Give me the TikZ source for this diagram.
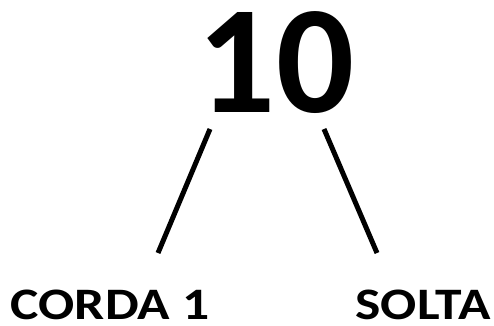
\documentclass[tikz,border=0pt]{standalone}
\usepackage{fontspec}
\setmainfont{Carlito}
\begin{document}
\begin{tikzpicture}[x=1pt,y=-1pt,
  lbl/.style={font=\bfseries\fontsize{45}{45}\selectfont, anchor=base, inner sep=0pt, xscale=1.19},
  big/.style={font=\bfseries\fontsize{154}{154}\selectfont, anchor=base, inner sep=0pt},
  link/.style={line width=5pt}]
\useasboundingbox (0,0) rectangle (494,325);
\node[big] (ten) at (276,112) {10};
\node[lbl] (corda) at (110,319) {CORDA 1};
\node[lbl] (solta) at (423,319) {SOLTA};
\coordinate (l1) at (210,129);
\coordinate (l2) at (158,253);
\coordinate (r1) at (324,129);
\coordinate (r2) at (377,253);
\draw[link] (l1) -- (l2);
\draw[link] (r1) -- (r2);
\end{tikzpicture}
\end{document}
